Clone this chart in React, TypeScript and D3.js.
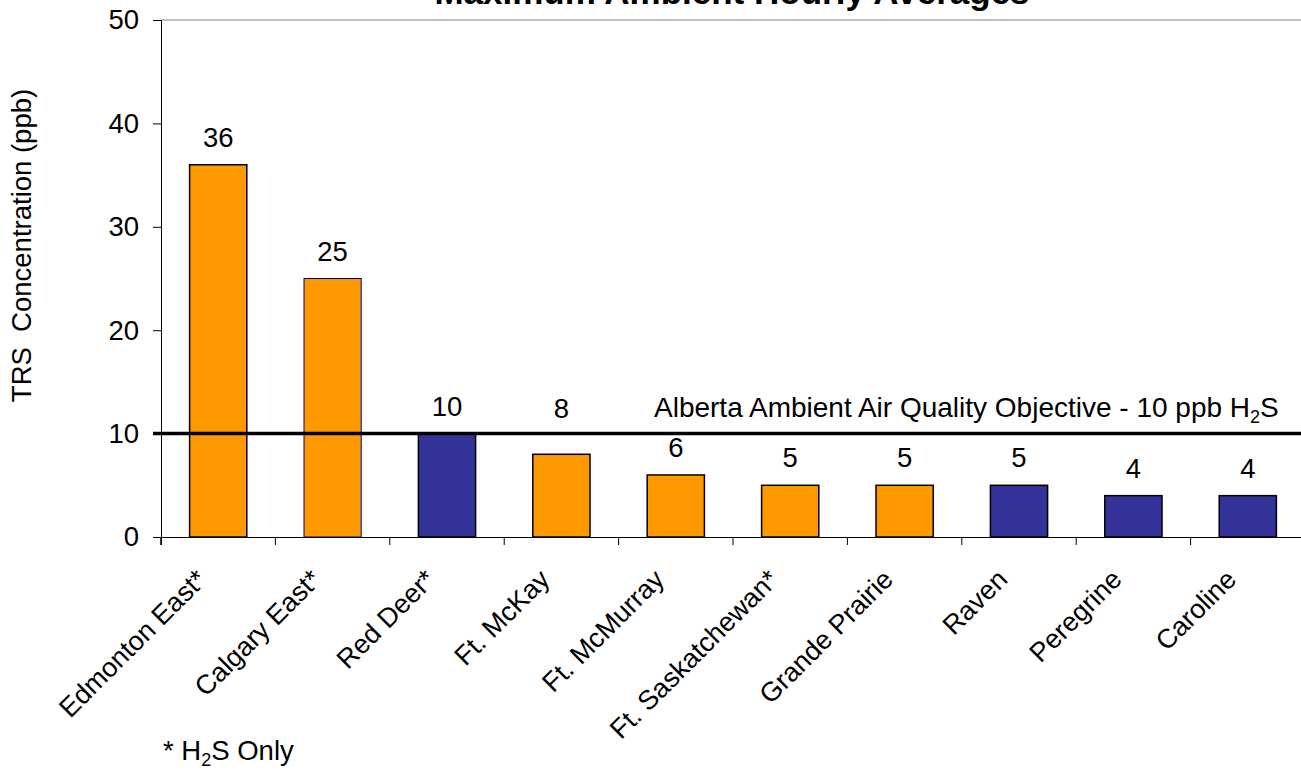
import * as React from "react"
import * as d3 from "d3"

const stations = [
  "Edmonton East*",
  "Calgary East*",
  "Red Deer*",
  "Ft. McKay",
  "Ft. McMurray",
  "Ft. Saskatchewan*",
  "Grande Prairie",
  "Raven",
  "Peregrine",
  "Caroline",
]
const maxHourly = [36, 25, 10, 8, 6, 5, 5, 5, 4, 4]
const group = ["o", "o", "n", "o", "o", "o", "o", "n", "n", "n"]
const yTicks = [0, 10, 20, 30, 40, 50]
const objective = 10

const width = 1301
const height = 770
const margin = { top: 20, right: -4, bottom: 233, left: 161 }
const font = "'Liberation Sans', Arial, sans-serif"
const fs = 27.5

function App() {
  const svgRef = React.useRef<SVGSVGElement>(null)

  React.useEffect(() => {
    const svg = d3.select(svgRef.current)
    svg.selectAll("*").remove()

    const x = d3
      .scaleBand()
      .domain(stations)
      .range([margin.left, width - margin.right])
    const y = d3
      .scaleLinear()
      .domain([0, 50])
      .range([height - margin.bottom, margin.top])

    // top frame
    svg
      .append("line")
      .attr("x1", margin.left)
      .attr("x2", width)
      .attr("y1", y(50))
      .attr("y2", y(50))
      .attr("stroke", "#808080")
      .attr("stroke-width", 1)

    const yAxis = svg
      .append("g")
      .attr("transform", `translate(${margin.left}, 0)`)
      .call(d3.axisLeft(y).tickValues(yTicks).tickSize(8).tickPadding(14))
    yAxis.select(".domain").attr("stroke", "#000")
    yAxis.selectAll("line").attr("stroke", "#000")
    yAxis
      .selectAll("text")
      .attr("font-size", fs)
      .attr("font-family", font)
      .attr("fill", "#000")

    const xAxis = svg
      .append("g")
      .attr("transform", `translate(0, ${y(0)})`)
      .call(d3.axisBottom(x).tickSize(8).tickFormat(() => ""))
    xAxis.select(".domain").attr("stroke", "#000")
    // ticks on band edges, not centers
    xAxis
      .selectAll(".tick line")
      .attr("x1", -x.bandwidth() / 2)
      .attr("x2", -x.bandwidth() / 2)
      .attr("stroke", "#000")
    xAxis
      .append("line")
      .attr("x1", margin.left)
      .attr("x2", margin.left)
      .attr("y2", 8)
      .attr("stroke", "#000")

    const bw = x.bandwidth() / 2
    svg
      .append("g")
      .selectAll("rect")
      .data(stations)
      .join("rect")
      .attr("x", (d) => x(d)! + bw / 2)
      .attr("y", (d, i) => y(maxHourly[i]))
      .attr("width", bw)
      .attr("height", (d, i) => y(0) - y(maxHourly[i]))
      .attr("fill", (d, i) => (group[i] === "o" ? "#FF9900" : "#333399"))
      .attr("stroke", (d, i) => (i === 1 ? "#000080" : "#000"))
      .attr("stroke-width", (d, i) => (i === 1 ? 1 : 1.5))

    // value labels, lifted above the objective line where they would hit it
    const labelY = (v: number) => {
      const base = y(v) - 18
      return base > y(objective) && base < y(objective) + 20 ? y(objective) - 16 : base
    }
    svg
      .append("g")
      .selectAll("text")
      .data(stations)
      .join("text")
      .attr("x", (d) => x(d)! + x.bandwidth() / 2)
      .attr("y", (d, i) => labelY(maxHourly[i]))
      .attr("text-anchor", "middle")
      .attr("font-size", fs)
      .attr("font-family", font)
      .text((d, i) => maxHourly[i])

    // objective line
    svg
      .append("line")
      .attr("x1", margin.left - 8)
      .attr("x2", width)
      .attr("y1", y(objective))
      .attr("y2", y(objective))
      .attr("stroke", "#000")
      .attr("stroke-width", 3.5)

    const obj = svg
      .append("text")
      .attr("x", 654)
      .attr("y", y(objective) - 17)
      .attr("font-size", 28)
      .attr("font-family", font)
    obj.append("tspan").text("Alberta Ambient Air Quality Objective - 10 ppb H")
    obj.append("tspan").attr("font-size", 18).attr("dy", 6).text("2")
    obj.append("tspan").attr("dy", -6).text("S")

    // category labels
    svg
      .append("g")
      .selectAll("text")
      .data(stations)
      .join("text")
      .attr(
        "transform",
        (d) => `translate(${x(d)! + x.bandwidth() / 2 - 10}, ${y(0) + 44}) rotate(-45)`
      )
      .attr("text-anchor", "end")
      .attr("font-size", 27)
      .attr("font-family", font)
      .text((d) => d)

    svg
      .append("text")
      .attr("transform", `translate(31, ${(y(0) + y(50)) / 2 - 33}) rotate(-90)`)
      .attr("text-anchor", "middle")
      .attr("font-size", fs)
      .attr("font-family", font)
      .attr("xml:space", "preserve")
      .text("TRS  Concentration (ppb)")

    svg
      .append("text")
      .attr("x", 732)
      .attr("y", 4)
      .attr("text-anchor", "middle")
      .attr("font-size", 35)
      .attr("font-weight", "bold")
      .attr("font-family", font)
      .text("Maximum Ambient Hourly Averages")

    const note = svg
      .append("text")
      .attr("x", 163)
      .attr("y", 760)
      .attr("font-size", fs)
      .attr("font-family", font)
    note.append("tspan").text("* H")
    note.append("tspan").attr("font-size", 18).attr("dy", 6).text("2")
    note.append("tspan").attr("dy", -6).text("S Only")
  }, [])

  return (
    <svg
      ref={svgRef}
      width={width}
      height={height}
      style={{ position: "absolute", left: 0, top: 0, background: "#fff" }}
    ></svg>
  )
}

export default App
